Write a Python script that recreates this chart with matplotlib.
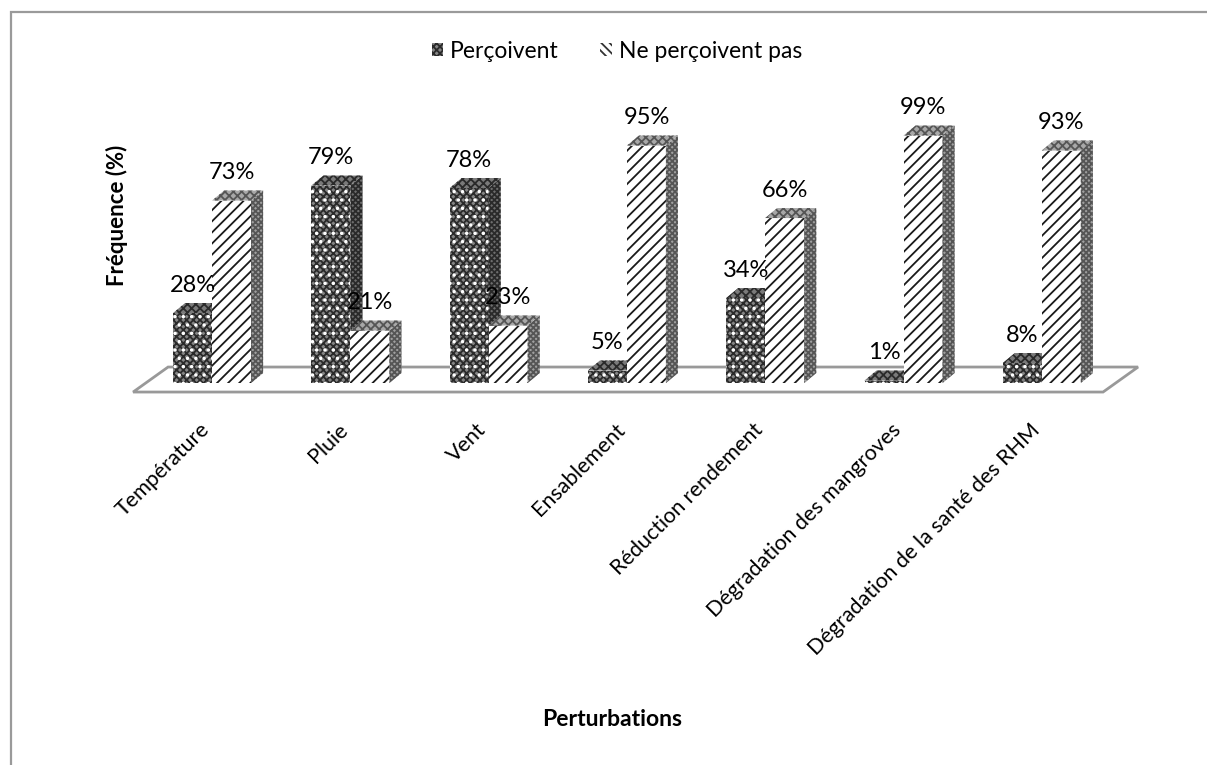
import numpy as np
import matplotlib
matplotlib.use('Agg')
import matplotlib.pyplot as plt
from matplotlib.patches import Polygon, Patch, Rectangle

plt.rcParams['font.family'] = ['Lato', 'DejaVu Sans']
plt.rcParams['hatch.linewidth'] = 1.3

# Perceived climate perturbations (%)
categories = ['Température', 'Pluie', 'Vent', 'Ensablement', 'Réduction rendement',
              'Dégradation des mangroves', 'Dégradation de la santé des RHM']
percoivent = [28, 79, 78, 5, 34, 1, 8]
ne_percoivent_pas = [73, 21, 23, 95, 66, 99, 93]
series_names = ['Perçoivent', 'Ne perçoivent pas']

# pseudo-3D geometry (in data units)
bar_w = 0.282
depth_x = 0.087
depth_y = 4.0
floor_front = -3.6
floor_back = 6.4
floor_dx = 0.253

fig = plt.figure(figsize=(12.07, 7.65), dpi=100)
ax = fig.add_axes([0.0955, 0.4797, 0.8593, 0.3660])
ax.set_xlim(-0.7, 6.8)
ax.set_ylim(-6, 106)
ax.axis('off')

# chart frame (only the top and left edges are inside the image)
fig.add_artist(Rectangle((11 / 1207, -0.1), 1.2, 1.1 - 12 / 765, transform=fig.transFigure,
                         facecolor='none', edgecolor='#9a9a9a', lw=1.6))

# floor
n = len(categories)
x_left, x_right = -0.571, n - 1 + 0.443
floor = Polygon([(x_left, floor_front), (x_right, floor_front),
                 (x_right + floor_dx, floor_back), (x_left + floor_dx, floor_back)],
                closed=True, facecolor='white', edgecolor='#999999', lw=2, zorder=1)
ax.add_patch(floor)


def draw_bar(x0, h, kind, z):
    x1 = x0 + bar_w
    front = [(x0, 0), (x1, 0), (x1, h), (x0, h)]
    side = [(x1, 0), (x1 + depth_x, depth_y), (x1 + depth_x, h + depth_y), (x1, h)]
    top = [(x0, h), (x1, h), (x1 + depth_x, h + depth_y), (x0 + depth_x, h + depth_y)]
    if kind == 0:
        ax.add_patch(Polygon(front, facecolor='#858585', edgecolor='#2a2a2a', lw=0,
                             hatch='xxxxx', zorder=z))
        ax.add_patch(Polygon(front, facecolor='none', edgecolor='white', lw=0,
                             hatch='..', zorder=z))
        ax.add_patch(Polygon(side, facecolor='#6e6e6e', edgecolor='#2a2a2a', lw=0,
                             hatch='xxxxxx', zorder=z))
        ax.add_patch(Polygon(top, facecolor='#7a7a7a', edgecolor='#2a2a2a', lw=0,
                             hatch='xxxx', zorder=z))
    else:
        ax.add_patch(Polygon(front, facecolor='white', edgecolor='#1a1a1a', lw=0,
                             hatch='///', zorder=z))
        ax.add_patch(Polygon(side, facecolor='#a0a0a0', edgecolor='#555555', lw=0,
                             hatch='xxxxxx', zorder=z))
        ax.add_patch(Polygon(top, facecolor='#a8a8a8', edgecolor='#555555', lw=0,
                             hatch='xxxx', zorder=z))


for i in range(n):
    draw_bar(i - bar_w, percoivent[i], 0, 2 + 2 * i)
    draw_bar(i, ne_percoivent_pas[i], 1, 3 + 2 * i)
    ax.text(i - bar_w / 2, percoivent[i] + depth_y + 3.0, f'{percoivent[i]}%',
            ha='center', va='bottom', fontsize=17, zorder=30)
    ax.text(i + bar_w / 2, ne_percoivent_pas[i] + depth_y + 3.0, f'{ne_percoivent_pas[i]}%',
            ha='center', va='bottom', fontsize=17, zorder=30)

# rotated category labels
for i, cat in enumerate(categories):
    ax.text(i - 0.09, -14.6, cat, rotation=45, ha='right', va='top',
            rotation_mode='anchor', fontsize=15.5)

fig.text(117 / 1207, 1 - 215 / 765, 'Fréquence (%)', rotation=90, ha='center', va='center',
         fontsize=16, fontweight='bold')
fig.text(612 / 1207, 1 - 720 / 765, 'Perturbations', ha='center', va='center',
         fontsize=16.5, fontweight='bold')

handles = [Patch(facecolor='#858585', edgecolor='#2a2a2a', hatch='xxxxx', lw=0),
           Patch(facecolor='white', edgecolor='#333333', hatch='\\\\\\\\', lw=0)]
fig.legend(handles, series_names, loc='center', bbox_to_anchor=(617 / 1207, 1 - 51 / 765),
           ncol=2, frameon=False, fontsize=16.5, handlelength=0.5, handleheight=0.5,
           handletextpad=0.3, columnspacing=1.8)

fig.savefig('out.png', dpi=100)
